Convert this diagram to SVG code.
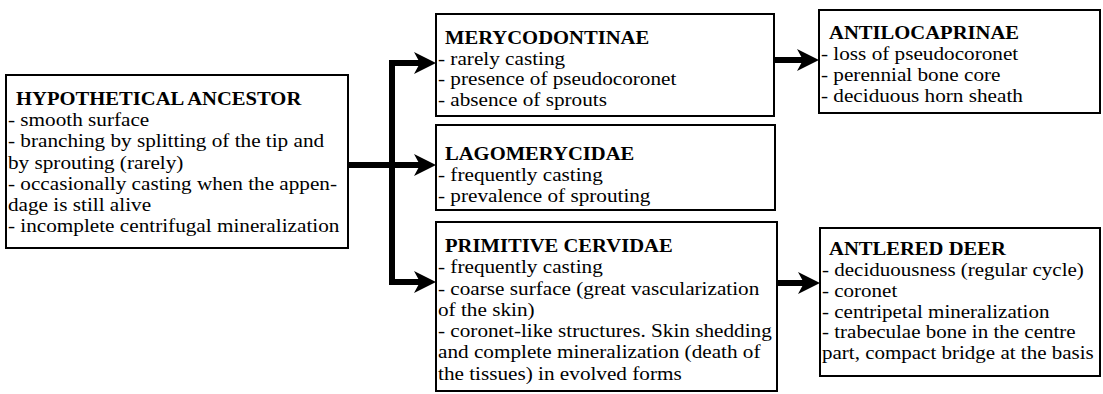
<svg xmlns="http://www.w3.org/2000/svg" width="1103" height="394" viewBox="0 0 1103 394">
<style>
.box{fill:#fff;stroke:#000;stroke-width:2}
.t{font-family:"Liberation Serif","Times New Roman",serif;font-size:18.6px;fill:#000}
.h{font-weight:bold}
.c{fill:none;stroke:#000;stroke-width:6;stroke-linecap:butt}
</style>
<defs>
<marker id="ah" viewBox="0 0 22 22" refX="8" refY="11" markerWidth="22" markerHeight="22" markerUnits="userSpaceOnUse" orient="auto">
<path d="M22,11 L0,0 L6,11 L0,22 Z" fill="#000"/>
</marker>
</defs>
<rect width="1103" height="394" fill="#fff"/>
<g id="ancestor">
<rect class="box" x="6" y="75" width="342" height="173"/>
<text class="t h" transform="translate(16,105) scale(1.108,1)">HYPOTHETICAL ANCESTOR</text>
<g transform="translate(8,0) scale(1.14,1)">
<text class="t" x="0" y="126">- smooth surface</text>
<text class="t" x="0" y="147.3">- branching by splitting of the tip and</text>
<text class="t" x="0" y="168.6">by sprouting (rarely)</text>
<text class="t" x="0" y="189.9">- occasionally casting when the appen-</text>
<text class="t" x="0" y="211.2">dage is still alive</text>
<text class="t" x="0" y="232.5">- incomplete centrifugal mineralization</text>
</g>
</g>
<g id="merycodontinae">
<rect class="box" x="436" y="14" width="338" height="102"/>
<text class="t h" transform="translate(445,44) scale(1.108,1)">MERYCODONTINAE</text>
<g transform="translate(438,0) scale(1.14,1)">
<text class="t" x="0" y="64.7">- rarely casting</text>
<text class="t" x="0" y="85.4">- presence of pseudocoronet</text>
<text class="t" x="0" y="106.1">- absence of sprouts</text>
</g>
</g>
<g id="lagomerycidae">
<rect class="box" x="436" y="125" width="339" height="85"/>
<text class="t h" transform="translate(445,160) scale(1.108,1)">LAGOMERYCIDAE</text>
<g transform="translate(438,0) scale(1.14,1)">
<text class="t" x="0" y="181">- frequently casting</text>
<text class="t" x="0" y="202">- prevalence of sprouting</text>
</g>
</g>
<g id="primitive-cervidae">
<rect class="box" x="436" y="222" width="341" height="169"/>
<text class="t h" transform="translate(445,252) scale(1.108,1)">PRIMITIVE CERVIDAE</text>
<g transform="translate(438,0) scale(1.14,1)">
<text class="t" x="0" y="273.3">- frequently casting</text>
<text class="t" x="0" y="294.6">- coarse surface (great vascularization</text>
<text class="t" x="0" y="315.9">of the skin)</text>
<text class="t" x="0" y="337.2">- coronet-like structures. Skin shedding</text>
<text class="t" x="0" y="358.5">and complete mineralization (death of</text>
<text class="t" x="0" y="379.8">the tissues) in evolved forms</text>
</g>
</g>
<g id="antilocaprinae">
<rect class="box" x="819" y="10" width="281" height="103"/>
<text class="t h" transform="translate(829,39) scale(1.108,1)">ANTILOCAPRINAE</text>
<g transform="translate(821,0) scale(1.14,1)">
<text class="t" x="0" y="60">- loss of pseudocoronet</text>
<text class="t" x="0" y="81">- perennial bone core</text>
<text class="t" x="0" y="102">- deciduous horn sheath</text>
</g>
</g>
<g id="antlered-deer">
<rect class="box" x="820" y="228" width="280" height="148"/>
<text class="t h" transform="translate(829,255) scale(1.108,1)">ANTLERED DEER</text>
<g transform="translate(822,0) scale(1.13,1)">
<text class="t" x="0" y="276">- deciduousness (regular cycle)</text>
<text class="t" x="0" y="296.8">- coronet</text>
<text class="t" x="0" y="317.6">- centripetal mineralization</text>
<text class="t" x="0" y="338.4">- trabeculae bone in the centre</text>
<text class="t" x="0" y="359.2">part, compact bridge at the basis</text>
</g>
</g>
<g id="connectors">
<path class="c" d="M392,60 V285"/>
<path class="c" d="M349,165 H422" marker-end="url(#ah)"/>
<path class="c" d="M389,63 H422" marker-end="url(#ah)"/>
<path class="c" d="M389,282 H422" marker-end="url(#ah)"/>
<path class="c" d="M775,60 H805" marker-end="url(#ah)"/>
<path class="c" d="M778,283 H806" marker-end="url(#ah)"/>
</g>
</svg>
